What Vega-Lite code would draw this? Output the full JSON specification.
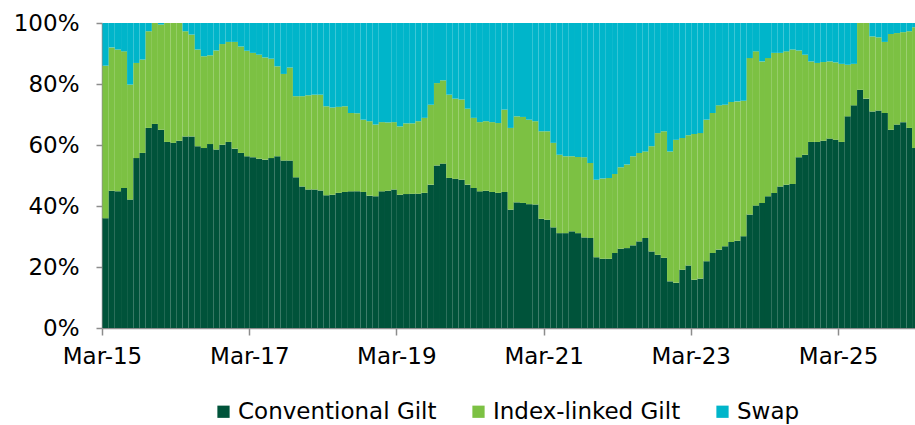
{
  "$schema": "https://vega.github.io/schema/vega-lite/v6.json",
  "width": 813,
  "height": 305,
  "autosize": {"type": "none"},
  "padding": {"left": 102, "top": 23, "right": 0, "bottom": 97},
  "background": "white",
  "config": {"view": {"stroke": null}, "font": "DejaVu Sans"},
  "data": {"values": [
    {"date":"2015-03-01","Conventional Gilt":36,"Index-linked Gilt":50,"Swap":14},
    {"date":"2015-04-01","Conventional Gilt":45.0,"Index-linked Gilt":47.0,"Swap":8.0},
    {"date":"2015-05-01","Conventional Gilt":44.8,"Index-linked Gilt":46.5,"Swap":8.7},
    {"date":"2015-06-01","Conventional Gilt":45.9,"Index-linked Gilt":44.8,"Swap":9.3},
    {"date":"2015-07-01","Conventional Gilt":42.1,"Index-linked Gilt":37.7,"Swap":20.2},
    {"date":"2015-08-01","Conventional Gilt":55.7,"Index-linked Gilt":31.2,"Swap":13.1},
    {"date":"2015-09-01","Conventional Gilt":57.4,"Index-linked Gilt":30.6,"Swap":12.0},
    {"date":"2015-10-01","Conventional Gilt":65.6,"Index-linked Gilt":31.7,"Swap":2.7},
    {"date":"2015-11-01","Conventional Gilt":66.9,"Index-linked Gilt":33.1,"Swap":0},
    {"date":"2015-12-01","Conventional Gilt":65.0,"Index-linked Gilt":34.5,"Swap":0.5},
    {"date":"2016-01-01","Conventional Gilt":61.0,"Index-linked Gilt":39.0,"Swap":0},
    {"date":"2016-02-01","Conventional Gilt":60.7,"Index-linked Gilt":39.3,"Swap":0},
    {"date":"2016-03-01","Conventional Gilt":61.4,"Index-linked Gilt":38.6,"Swap":0},
    {"date":"2016-04-01","Conventional Gilt":62.8,"Index-linked Gilt":34.5,"Swap":2.7},
    {"date":"2016-05-01","Conventional Gilt":62.8,"Index-linked Gilt":33.4,"Swap":3.8},
    {"date":"2016-06-01","Conventional Gilt":59.6,"Index-linked Gilt":31.7,"Swap":8.7},
    {"date":"2016-07-01","Conventional Gilt":59.0,"Index-linked Gilt":30.1,"Swap":10.9},
    {"date":"2016-08-01","Conventional Gilt":60.3,"Index-linked Gilt":29.1,"Swap":10.6},
    {"date":"2016-09-01","Conventional Gilt":58.5,"Index-linked Gilt":32.5,"Swap":9.0},
    {"date":"2016-10-01","Conventional Gilt":60.1,"Index-linked Gilt":33.0,"Swap":6.9},
    {"date":"2016-11-01","Conventional Gilt":61.0,"Index-linked Gilt":32.8,"Swap":6.2},
    {"date":"2016-12-01","Conventional Gilt":58.8,"Index-linked Gilt":35.0,"Swap":6.2},
    {"date":"2017-01-01","Conventional Gilt":57.4,"Index-linked Gilt":34.9,"Swap":7.7},
    {"date":"2017-02-01","Conventional Gilt":56.3,"Index-linked Gilt":34.6,"Swap":9.1},
    {"date":"2017-03-01","Conventional Gilt":56.0,"Index-linked Gilt":34.2,"Swap":9.8},
    {"date":"2017-04-01","Conventional Gilt":55.5,"Index-linked Gilt":34.1,"Swap":10.4},
    {"date":"2017-05-01","Conventional Gilt":55.2,"Index-linked Gilt":33.5,"Swap":11.3},
    {"date":"2017-06-01","Conventional Gilt":55.7,"Index-linked Gilt":32.6,"Swap":11.7},
    {"date":"2017-07-01","Conventional Gilt":56.3,"Index-linked Gilt":29.5,"Swap":14.2},
    {"date":"2017-08-01","Conventional Gilt":54.9,"Index-linked Gilt":28.4,"Swap":16.7},
    {"date":"2017-09-01","Conventional Gilt":54.9,"Index-linked Gilt":30.5,"Swap":14.6},
    {"date":"2017-10-01","Conventional Gilt":49.4,"Index-linked Gilt":26.6,"Swap":24.0},
    {"date":"2017-11-01","Conventional Gilt":46.4,"Index-linked Gilt":29.6,"Swap":24.0},
    {"date":"2017-12-01","Conventional Gilt":45.4,"Index-linked Gilt":30.9,"Swap":23.7},
    {"date":"2018-01-01","Conventional Gilt":45.4,"Index-linked Gilt":31.1,"Swap":23.5},
    {"date":"2018-02-01","Conventional Gilt":45.1,"Index-linked Gilt":31.4,"Swap":23.5},
    {"date":"2018-03-01","Conventional Gilt":43.5,"Index-linked Gilt":29.2,"Swap":27.3},
    {"date":"2018-04-01","Conventional Gilt":43.7,"Index-linked Gilt":28.6,"Swap":27.7},
    {"date":"2018-05-01","Conventional Gilt":44.3,"Index-linked Gilt":28.2,"Swap":27.5},
    {"date":"2018-06-01","Conventional Gilt":44.6,"Index-linked Gilt":28.1,"Swap":27.3},
    {"date":"2018-07-01","Conventional Gilt":44.8,"Index-linked Gilt":25.7,"Swap":29.5},
    {"date":"2018-08-01","Conventional Gilt":44.8,"Index-linked Gilt":25.6,"Swap":29.6},
    {"date":"2018-09-01","Conventional Gilt":44.6,"Index-linked Gilt":23.7,"Swap":31.7},
    {"date":"2018-10-01","Conventional Gilt":43.4,"Index-linked Gilt":24.4,"Swap":32.2},
    {"date":"2018-11-01","Conventional Gilt":43.2,"Index-linked Gilt":23.5,"Swap":33.3},
    {"date":"2018-12-01","Conventional Gilt":44.8,"Index-linked Gilt":22.7,"Swap":32.5},
    {"date":"2019-01-01","Conventional Gilt":45.0,"Index-linked Gilt":22.4,"Swap":32.6},
    {"date":"2019-02-01","Conventional Gilt":45.4,"Index-linked Gilt":22.1,"Swap":32.5},
    {"date":"2019-03-01","Conventional Gilt":43.7,"Index-linked Gilt":22.4,"Swap":33.9},
    {"date":"2019-04-01","Conventional Gilt":43.9,"Index-linked Gilt":23.2,"Swap":32.9},
    {"date":"2019-05-01","Conventional Gilt":44.0,"Index-linked Gilt":23.1,"Swap":32.9},
    {"date":"2019-06-01","Conventional Gilt":44.0,"Index-linked Gilt":23.8,"Swap":32.2},
    {"date":"2019-07-01","Conventional Gilt":44.3,"Index-linked Gilt":24.6,"Swap":31.1},
    {"date":"2019-08-01","Conventional Gilt":47.0,"Index-linked Gilt":26.2,"Swap":26.8},
    {"date":"2019-09-01","Conventional Gilt":53.3,"Index-linked Gilt":27.0,"Swap":19.7},
    {"date":"2019-10-01","Conventional Gilt":53.9,"Index-linked Gilt":27.3,"Swap":18.8},
    {"date":"2019-11-01","Conventional Gilt":49.2,"Index-linked Gilt":27.3,"Swap":23.5},
    {"date":"2019-12-01","Conventional Gilt":48.9,"Index-linked Gilt":26.3,"Swap":24.8},
    {"date":"2020-01-01","Conventional Gilt":48.6,"Index-linked Gilt":26.3,"Swap":25.1},
    {"date":"2020-02-01","Conventional Gilt":47.0,"Index-linked Gilt":24.9,"Swap":28.1},
    {"date":"2020-03-01","Conventional Gilt":45.9,"Index-linked Gilt":23.0,"Swap":31.1},
    {"date":"2020-04-01","Conventional Gilt":44.8,"Index-linked Gilt":22.7,"Swap":32.5},
    {"date":"2020-05-01","Conventional Gilt":45.0,"Index-linked Gilt":22.8,"Swap":32.2},
    {"date":"2020-06-01","Conventional Gilt":44.6,"Index-linked Gilt":22.9,"Swap":32.5},
    {"date":"2020-07-01","Conventional Gilt":44.3,"Index-linked Gilt":22.9,"Swap":32.8},
    {"date":"2020-08-01","Conventional Gilt":44.6,"Index-linked Gilt":27.0,"Swap":28.4},
    {"date":"2020-09-01","Conventional Gilt":38.8,"Index-linked Gilt":26.8,"Swap":34.4},
    {"date":"2020-10-01","Conventional Gilt":41.2,"Index-linked Gilt":28.2,"Swap":30.6},
    {"date":"2020-11-01","Conventional Gilt":41.0,"Index-linked Gilt":28.2,"Swap":30.8},
    {"date":"2020-12-01","Conventional Gilt":40.6,"Index-linked Gilt":27.7,"Swap":31.7},
    {"date":"2021-01-01","Conventional Gilt":40.5,"Index-linked Gilt":27.3,"Swap":32.2},
    {"date":"2021-02-01","Conventional Gilt":35.8,"Index-linked Gilt":28.7,"Swap":35.5},
    {"date":"2021-03-01","Conventional Gilt":35.5,"Index-linked Gilt":29.0,"Swap":35.5},
    {"date":"2021-04-01","Conventional Gilt":33.0,"Index-linked Gilt":27.7,"Swap":39.3},
    {"date":"2021-05-01","Conventional Gilt":31.1,"Index-linked Gilt":25.7,"Swap":43.2},
    {"date":"2021-06-01","Conventional Gilt":31.1,"Index-linked Gilt":25.2,"Swap":43.7},
    {"date":"2021-07-01","Conventional Gilt":31.7,"Index-linked Gilt":24.6,"Swap":43.7},
    {"date":"2021-08-01","Conventional Gilt":31.1,"Index-linked Gilt":25.0,"Swap":43.9},
    {"date":"2021-09-01","Conventional Gilt":29.7,"Index-linked Gilt":26.3,"Swap":44.0},
    {"date":"2021-10-01","Conventional Gilt":29.5,"Index-linked Gilt":24.6,"Swap":45.9},
    {"date":"2021-11-01","Conventional Gilt":23.2,"Index-linked Gilt":25.4,"Swap":51.4},
    {"date":"2021-12-01","Conventional Gilt":22.7,"Index-linked Gilt":26.3,"Swap":51.0},
    {"date":"2022-01-01","Conventional Gilt":22.7,"Index-linked Gilt":26.5,"Swap":50.8},
    {"date":"2022-02-01","Conventional Gilt":24.6,"Index-linked Gilt":25.9,"Swap":49.5},
    {"date":"2022-03-01","Conventional Gilt":26.0,"Index-linked Gilt":26.7,"Swap":47.3},
    {"date":"2022-04-01","Conventional Gilt":26.2,"Index-linked Gilt":27.4,"Swap":46.4},
    {"date":"2022-05-01","Conventional Gilt":27.1,"Index-linked Gilt":29.2,"Swap":43.7},
    {"date":"2022-06-01","Conventional Gilt":28.4,"Index-linked Gilt":29.0,"Swap":42.6},
    {"date":"2022-07-01","Conventional Gilt":29.5,"Index-linked Gilt":28.4,"Swap":42.1},
    {"date":"2022-08-01","Conventional Gilt":25.1,"Index-linked Gilt":34.5,"Swap":40.4},
    {"date":"2022-09-01","Conventional Gilt":24.0,"Index-linked Gilt":39.9,"Swap":36.1},
    {"date":"2022-10-01","Conventional Gilt":23.0,"Index-linked Gilt":41.5,"Swap":35.5},
    {"date":"2022-11-01","Conventional Gilt":15.3,"Index-linked Gilt":42.6,"Swap":42.1},
    {"date":"2022-12-01","Conventional Gilt":14.8,"Index-linked Gilt":46.9,"Swap":38.3},
    {"date":"2023-01-01","Conventional Gilt":19.1,"Index-linked Gilt":43.2,"Swap":37.7},
    {"date":"2023-02-01","Conventional Gilt":20.5,"Index-linked Gilt":42.7,"Swap":36.8},
    {"date":"2023-03-01","Conventional Gilt":15.8,"Index-linked Gilt":47.8,"Swap":36.4},
    {"date":"2023-04-01","Conventional Gilt":16.2,"Index-linked Gilt":47.7,"Swap":36.1},
    {"date":"2023-05-01","Conventional Gilt":21.9,"Index-linked Gilt":46.4,"Swap":31.7},
    {"date":"2023-06-01","Conventional Gilt":24.6,"Index-linked Gilt":45.9,"Swap":29.5},
    {"date":"2023-07-01","Conventional Gilt":25.7,"Index-linked Gilt":47.3,"Swap":27.0},
    {"date":"2023-08-01","Conventional Gilt":26.8,"Index-linked Gilt":46.4,"Swap":26.8},
    {"date":"2023-09-01","Conventional Gilt":28.2,"Index-linked Gilt":45.9,"Swap":25.9},
    {"date":"2023-10-01","Conventional Gilt":28.6,"Index-linked Gilt":45.7,"Swap":25.7},
    {"date":"2023-11-01","Conventional Gilt":30.1,"Index-linked Gilt":44.4,"Swap":25.5},
    {"date":"2023-12-01","Conventional Gilt":37.2,"Index-linked Gilt":51.3,"Swap":11.5},
    {"date":"2024-01-01","Conventional Gilt":40.2,"Index-linked Gilt":50.5,"Swap":9.3},
    {"date":"2024-02-01","Conventional Gilt":41.0,"Index-linked Gilt":46.4,"Swap":12.6},
    {"date":"2024-03-01","Conventional Gilt":43.2,"Index-linked Gilt":45.3,"Swap":11.5},
    {"date":"2024-04-01","Conventional Gilt":44.3,"Index-linked Gilt":45.9,"Swap":9.8},
    {"date":"2024-05-01","Conventional Gilt":46.4,"Index-linked Gilt":43.8,"Swap":9.8},
    {"date":"2024-06-01","Conventional Gilt":47.0,"Index-linked Gilt":43.7,"Swap":9.3},
    {"date":"2024-07-01","Conventional Gilt":47.2,"Index-linked Gilt":44.1,"Swap":8.7},
    {"date":"2024-08-01","Conventional Gilt":56.0,"Index-linked Gilt":35.0,"Swap":9.0},
    {"date":"2024-09-01","Conventional Gilt":56.8,"Index-linked Gilt":32.8,"Swap":10.4},
    {"date":"2024-10-01","Conventional Gilt":61.0,"Index-linked Gilt":26.4,"Swap":12.6},
    {"date":"2024-11-01","Conventional Gilt":61.0,"Index-linked Gilt":25.9,"Swap":13.1},
    {"date":"2024-12-01","Conventional Gilt":61.4,"Index-linked Gilt":25.8,"Swap":12.8},
    {"date":"2025-01-01","Conventional Gilt":62.1,"Index-linked Gilt":25.3,"Swap":12.6},
    {"date":"2025-02-01","Conventional Gilt":61.7,"Index-linked Gilt":25.4,"Swap":12.9},
    {"date":"2025-03-01","Conventional Gilt":61.0,"Index-linked Gilt":25.6,"Swap":13.4},
    {"date":"2025-04-01","Conventional Gilt":69.4,"Index-linked Gilt":16.9,"Swap":13.7},
    {"date":"2025-05-01","Conventional Gilt":73.0,"Index-linked Gilt":13.6,"Swap":13.4},
    {"date":"2025-06-01","Conventional Gilt":78.1,"Index-linked Gilt":21.9,"Swap":0},
    {"date":"2025-07-01","Conventional Gilt":75.2,"Index-linked Gilt":24.8,"Swap":0},
    {"date":"2025-08-01","Conventional Gilt":71.0,"Index-linked Gilt":24.6,"Swap":4.4},
    {"date":"2025-09-01","Conventional Gilt":71.3,"Index-linked Gilt":24.0,"Swap":4.7},
    {"date":"2025-10-01","Conventional Gilt":70.5,"Index-linked Gilt":23.3,"Swap":6.2},
    {"date":"2025-11-01","Conventional Gilt":65.0,"Index-linked Gilt":31.4,"Swap":3.6},
    {"date":"2025-12-01","Conventional Gilt":66.7,"Index-linked Gilt":30.0,"Swap":3.3},
    {"date":"2026-01-01","Conventional Gilt":67.5,"Index-linked Gilt":29.5,"Swap":3.0},
    {"date":"2026-02-01","Conventional Gilt":65.6,"Index-linked Gilt":31.7,"Swap":2.7},
    {"date":"2026-03-01","Conventional Gilt":59.0,"Index-linked Gilt":39.6,"Swap":1.4}
  ]},
  "transform": [
    {"fold": ["Conventional Gilt", "Index-linked Gilt", "Swap"], "as": ["series", "share"]}
  ],
  "mark": {"type": "bar", "clip": true, "binSpacing": 0},
  "encoding": {
    "x": {
      "field": "date",
      "timeUnit": "utcyearmonth",
      "type": "temporal",
      "scale": {"domain": [
        {"year": 2015, "month": 3, "date": 1, "utc": true},
        {"year": 2026, "month": 3, "date": 18, "utc": true}
      ]},
      "axis": {
        "values": [
          {"year": 2015, "month": 3, "date": 1, "utc": true},
          {"year": 2017, "month": 3, "date": 1, "utc": true},
          {"year": 2019, "month": 3, "date": 1, "utc": true},
          {"year": 2021, "month": 3, "date": 1, "utc": true},
          {"year": 2023, "month": 3, "date": 1, "utc": true},
          {"year": 2025, "month": 3, "date": 1, "utc": true}
        ],
        "labelExpr": "utcFormat(datum.value, '%b-%y')",
        "title": null,
        "grid": false,
        "labelAngle": 0,
        "labelFlush": false,
        "labelOverlap": false,
        "domainColor": "#8c8c8c",
        "domainWidth": 1.5,
        "tickColor": "#8c8c8c",
        "tickWidth": 1.5,
        "tickSize": 7,
        "labelFontSize": 23,
        "labelColor": "#000000",
        "labelPadding": 10
      }
    },
    "y": {
      "field": "share",
      "type": "quantitative",
      "stack": "zero",
      "scale": {"domain": [0, 100], "nice": false},
      "axis": {
        "values": [0, 20, 40, 60, 80, 100],
        "labelExpr": "datum.value + '%'",
        "title": null,
        "grid": false,
        "domainColor": "#8c8c8c",
        "domainWidth": 1.5,
        "tickColor": "#8c8c8c",
        "tickWidth": 1.5,
        "tickSize": 6,
        "labelFontSize": 23,
        "labelColor": "#000000",
        "labelPadding": 17
      }
    },
    "color": {
      "field": "series",
      "type": "nominal",
      "scale": {
        "domain": ["Conventional Gilt", "Index-linked Gilt", "Swap"],
        "range": ["#00533a", "#7cc143", "#00b5ca"]
      },
      "legend": {
        "title": null,
        "orient": "none",
        "direction": "horizontal",
        "legendX": 110,
        "legendY": 377,
        "symbolType": "square",
        "symbolSize": 150,
        "symbolStrokeWidth": 0,
        "symbolOpacity": 1,
        "labelFontSize": 23,
        "labelLimit": 400,
        "labelColor": "#000000",
        "labelOffset": 3,
        "columnPadding": 30
      }
    },
    "order": {"field": "series"}
  }
}
